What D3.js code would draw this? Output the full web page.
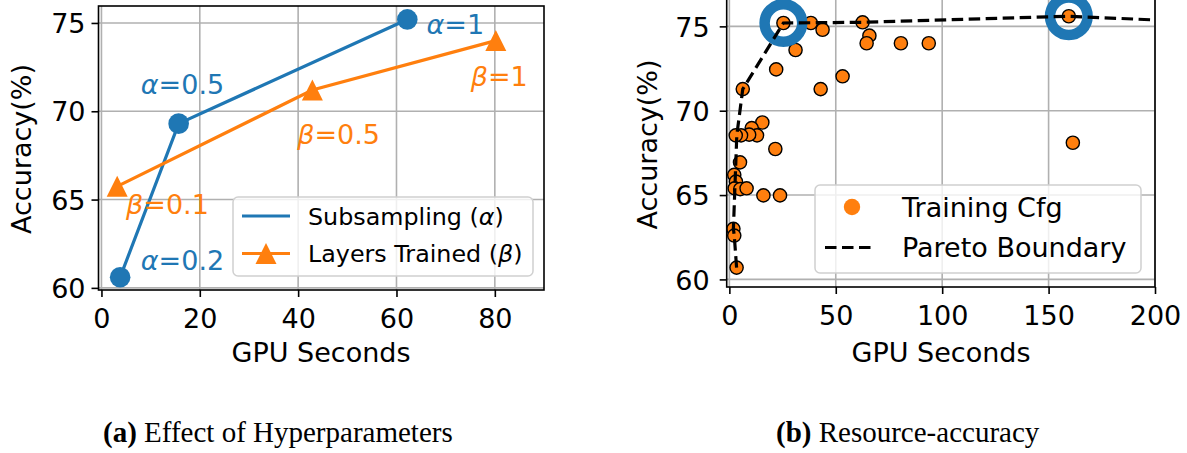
<!DOCTYPE html>
<html><head><meta charset="utf-8">
<script src="https://cdn.jsdelivr.net/npm/d3@7"></script>
<style>
body{margin:0;background:#fff;}
text{font-family:"DejaVu Sans",sans-serif;}
</style></head>
<body>
<svg id="c" width="1187" height="453"></svg>
<script>
// ---------- data ----------
const subsampleTime = [3.8, 15.7, 62.2];
const subsampleAcc  = [60.6, 69.3, 75.2];
const subsampleLabels = ["0.2", "0.5", "1"];
const layersTime = [3.2, 42.9, 80.2];
const layersAcc  = [65.75, 71.2, 74.0];
const layersLabels = ["0.1", "0.5", "1"];

const cfgTime = [25.4, 38.3, 43.8, 31.1, 22.0, 42.9, 53.2, 62.6, 65.8, 64.5, 80.6, 93.7, 159.5, 161.4,
  6.3, 15.5, 10.5, 13.0, 9.3, 5.5, 3.0, 21.6, 5.0, 2.3, 3.1, 2.5, 5.1, 8.1, 16.0, 23.8, 1.9, 2.3, 3.4];
const cfgAcc = [75.2, 75.2, 74.8, 73.6, 72.45, 71.28, 72.04, 75.24, 74.45, 74.0, 74.0, 74.0, 75.6, 68.1,
  71.28, 69.3, 68.97, 68.54, 68.58, 68.54, 68.54, 67.73, 66.94, 66.2, 65.8, 65.4, 65.35, 65.4, 64.98, 64.98, 63.0, 62.6, 60.7];
const paretoTime = [3.4, 2.3, 1.9, 3.5, 6.3, 25.4, 62.6, 159.5, 233];
const paretoAcc  = [60.7, 62.6, 63.0, 68.55, 71.28, 75.2, 75.24, 75.6, 75.2];
const highlightTime = [25.4, 159.5];
const highlightAcc  = [75.2, 75.6];

const leftXTicks = [0, 20, 40, 60, 80];
const rightXTicks = [0, 50, 100, 150, 200];
const yTicks = [60, 65, 70, 75];

const BLUE = "#1f77b4", ORANGE = "#ff7f0e";
const svg = d3.select("#c");
const FS = 27;

function grid(g, x, y, xt, yt) {
  g.append("g").selectAll("line").data(xt).join("line")
    .attr("x1", d => x(d)).attr("x2", d => x(d))
    .attr("y1", y.range()[0]).attr("y2", y.range()[1])
    .attr("stroke", "#b0b0b0").attr("stroke-width", 1.6);
  g.append("g").selectAll("line").data(yt).join("line")
    .attr("y1", d => y(d)).attr("y2", d => y(d))
    .attr("x1", x.range()[0]).attr("x2", x.range()[1])
    .attr("stroke", "#b0b0b0").attr("stroke-width", 1.6);
}
function axes(g, x, y, xt, yt, ylabAnchor) {
  const xa = g.append("g").attr("transform", `translate(0,${y.range()[0]})`)
    .call(d3.axisBottom(x).tickValues(xt).tickSize(7).tickPadding(10).tickFormat(d3.format("d")));
  const ya = g.append("g").attr("transform", `translate(${x.range()[0]},0)`)
    .call(d3.axisLeft(y).tickValues(yt).tickSize(7).tickPadding(ylabAnchor).tickFormat(d3.format("d")));
  [xa, ya].forEach(a => {
    a.select(".domain").remove();
    a.selectAll(".tick line").attr("stroke", "#000").attr("stroke-width", 1.6);
    a.selectAll(".tick text").attr("fill", "#000").style("font-size", FS + "px")
      .style("font-family", "DejaVu Sans");
  });
  xa.selectAll(".tick text").attr("dy", "0.78em");
  ya.selectAll(".tick text").attr("dy", "0.36em");
  const [x0, x1] = x.range(), [y0, y1] = y.range();
  g.append("rect").attr("x", x0).attr("y", y1).attr("width", x1 - x0).attr("height", y0 - y1)
    .attr("fill", "none").attr("stroke", "#000").attr("stroke-width", 1.6);
}
function legendBox(g, x0, y0, w, h) {
  g.append("rect").attr("x", x0).attr("y", y0).attr("width", w).attr("height", h)
    .attr("rx", 5).attr("fill", "#fff").attr("fill-opacity", 0.8)
    .attr("stroke", "#d0d0d0").attr("stroke-width", 1.5);
}
function triPath(s) { // matplotlib-like '^' with width=height=s
  const h = s / 2;
  return `M0,${-h}L${h},${h}L${-h},${h}Z`;
}

// ---------- left chart ----------
const L = svg.append("g");
const xL = d3.scaleLinear().domain([-0.6, 90]).range([98.5, 544]);
const yL = d3.scaleLinear().domain([59.88, 75.96]).range([290, 6]);
grid(L, xL, yL, leftXTicks, yTicks);

const line = (x, y) => d3.line().x(d => x(d[0])).y(d => y(d[1]));
const subPts = subsampleTime.map((t, i) => [t, subsampleAcc[i]]);
const layPts = layersTime.map((t, i) => [t, layersAcc[i]]);
L.append("path").attr("d", line(xL, yL)(subPts)).attr("fill", "none").attr("stroke", BLUE).attr("stroke-width", 3.2);
L.selectAll(".sc").data(subPts).join("circle").attr("cx", d => xL(d[0])).attr("cy", d => yL(d[1])).attr("r", 10.3).attr("fill", BLUE);
L.append("path").attr("d", line(xL, yL)(layPts)).attr("fill", "none").attr("stroke", ORANGE).attr("stroke-width", 3.2);
L.selectAll(".lt").data(layPts).join("path").attr("transform", d => `translate(${xL(d[0])},${yL(d[1])})`)
  .attr("d", triPath(21)).attr("fill", ORANGE);

// annotation anchor positions (data units)
const subLabelPos = [[8.0, 61.0], [8.0, 71.0], [66.1, 74.37]];
const layLabelPos = [[5.0, 64.2], [39.8, 68.14], [75.1, 71.44]];
function greekLabel(g, px, py, greek, val, color) {
  const t = g.append("text").attr("x", px).attr("y", py).attr("fill", color).style("font-size", FS + "px");
  t.append("tspan").style("font-style", "italic").text(greek);
  t.append("tspan").text("=" + val);
}
subsampleLabels.forEach((v, i) => greekLabel(L, xL(subLabelPos[i][0]), yL(subLabelPos[i][1]), "α", v, BLUE));
layersLabels.forEach((v, i) => greekLabel(L, xL(layLabelPos[i][0]), yL(layLabelPos[i][1]), "β", v, ORANGE));

// legend left
legendBox(L, 233, 197, 300, 79);
L.append("line").attr("x1", 242).attr("x2", 290).attr("y1", 216).attr("y2", 216).attr("stroke", BLUE).attr("stroke-width", 3.2);
L.append("line").attr("x1", 242).attr("x2", 290).attr("y1", 253.5).attr("y2", 253.5).attr("stroke", ORANGE).attr("stroke-width", 3.2);
L.append("path").attr("transform", "translate(266,253.5)").attr("d", triPath(21)).attr("fill", ORANGE);
function legText(g, px, py, pre, greek, post, fs) {
  const t = g.append("text").attr("x", px).attr("y", py).attr("dy", "0.36em").style("font-size", fs + "px").attr("fill", "#000");
  t.append("tspan").text(pre);
  if (greek) { t.append("tspan").style("font-style", "italic").text(greek); t.append("tspan").text(post); }
}
legText(L, 308, 216, "Subsampling (", "α", ")", 23.8);
legText(L, 308, 253.5, "Layers Trained (", "β", ")", 23.8);

axes(L, xL, yL, leftXTicks, yTicks, 6);
L.append("text").attr("x", 321).attr("y", 362).attr("text-anchor", "middle").style("font-size", FS + "px").text("GPU Seconds");
L.append("text").attr("transform", "translate(31,149) rotate(-90)").attr("text-anchor", "middle").style("font-size", FS + "px").text("Accuracy(%)");

// ---------- right chart ----------
const R = svg.append("g");
const xR = d3.scaleLinear().domain([-1.25, 200]).range([726.7, 1155]);
const yR = d3.scaleLinear().domain([59.55, 76.8]).range([287, -4]);
grid(R, xR, yR, rightXTicks, yTicks);
const cfgPts = cfgTime.map((t, i) => [t, cfgAcc[i]]);
R.selectAll(".cfg").data(cfgPts).join("circle").attr("cx", d => xR(d[0])).attr("cy", d => yR(d[1]))
  .attr("r", 6.6).attr("fill", ORANGE).attr("stroke", "#000").attr("stroke-width", 1.4);
const hiPts = highlightTime.map((t, i) => [t, highlightAcc[i]]);
R.selectAll(".hi").data(hiPts).join("circle").attr("cx", d => xR(d[0])).attr("cy", d => yR(d[1]))
  .attr("r", 18.8).attr("fill", "none").attr("stroke", BLUE).attr("stroke-width", 10.5);
const parPts = paretoTime.map((t, i) => [t, paretoAcc[i]]);
R.append("clipPath").attr("id", "clipR").append("rect").attr("x", 726.7).attr("y", -4).attr("width", 1155 - 726.7).attr("height", 291);
R.append("path").attr("d", line(xR, yR)(parPts)).attr("fill", "none").attr("stroke", "#000")
  .attr("stroke-width", 3.2).attr("stroke-dasharray", "11.5,5.5").attr("clip-path", "url(#clipR)");

legendBox(R, 815, 185, 326, 88);
R.append("circle").attr("cx", 852).attr("cy", 207).attr("r", 8.2).attr("fill", ORANGE);
R.append("line").attr("x1", 825).attr("x2", 876).attr("y1", 247.5).attr("y2", 247.5).attr("stroke", "#000")
  .attr("stroke-width", 3.2).attr("stroke-dasharray", "11.5,5.5");
legText(R, 902, 207, "Training Cfg", null, null, 27);
legText(R, 902, 247.5, "Pareto Boundary", null, null, 27);

axes(R, xR, yR, rightXTicks, yTicks, 10);
R.append("text").attr("x", 941).attr("y", 362).attr("text-anchor", "middle").style("font-size", FS + "px").text("GPU Seconds");
R.append("text").attr("transform", "translate(657,144.5) rotate(-90)").attr("text-anchor", "middle").style("font-size", FS + "px").text("Accuracy(%)");

// ---------- captions ----------
function caption(px, bold, rest) {
  const t = svg.append("text").attr("x", px).attr("y", 442).style("font-family", "Liberation Serif").style("font-size", "29px");
  t.append("tspan").style("font-weight", "bold").text(bold);
  t.append("tspan").text(rest);
}
caption(103, "(a)", " Effect of Hyperparameters");
caption(776, "(b)", " Resource-accuracy");
</script>
</body></html>
